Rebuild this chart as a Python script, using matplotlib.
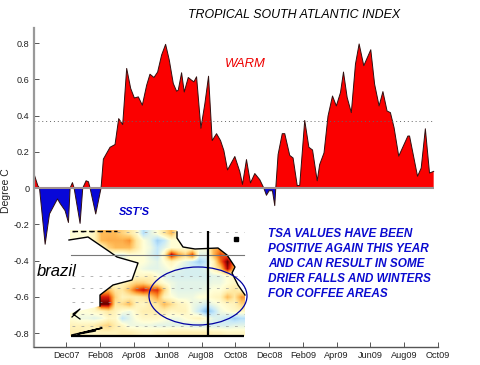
import matplotlib
matplotlib.use("Agg")
import matplotlib.pyplot as plt
import numpy as np
from matplotlib.colors import LinearSegmentedColormap
from matplotlib.patches import Ellipse, Polygon

plt.rcParams['font.family'] = ['Liberation Sans', 'DejaVu Sans']

# months since Oct 2007 (axis unit) and TSA index
months = [0, .26, .36, .7, .96, 1.44, 1.6, 1.9, 2.1, 2.2, 2.34, 2.44, 2.8, 2.96, 3.16, 3.3, 3.4, 3.74, 4.06,
          4.2, 4.6, 4.9, 5.12, 5.36, 5.6, 5.84, 6.06, 6.3, 6.54, 6.8, 7.0, 7.24, 7.46, 7.7, 7.94, 8.16, 8.4,
          8.6, 8.7, 8.9, 9.06, 9.3, 9.5, 9.64, 9.8, 10.06, 10.3, 10.52, 10.74, 11, 11.24, 11.44, 11.66, 12.1,
          12.4, 12.56, 12.8, 13.04, 13.3, 13.6, 13.84, 14.0, 14.16, 14.36, 14.5, 14.56, 14.7, 14.95, 15.1,
          15.4, 15.6, 15.85, 16, 16.3, 16.55, 16.77, 17.05, 17.2, 17.46, 17.7, 17.97, 18.2, 18.45, 18.63,
          18.85, 19.1, 19.35, 19.57, 19.85, 20.27, 20.5, 20.77, 21, 21.25, 21.45, 21.67, 21.95, 22.5, 22.6,
          23.08, 23.3, 23.55, 23.8, 24.05]
tsa = [.087, .013, 0, -.31, -.143, -.06, -.085, -.125, -.19, 0, .03, 0, -.195, 0, .04, .035, 0, -.143, 0,
       .16, .225, .24, .383, .35, .66, .55, .497, .503, .457, .567, .628, .61, .64, .734, .793, .706, .577,
       .534, .54, .636, .53, .61, .595, .586, .614, .33, .466, .617, .262, .3, .262, .207, .1, .174,
       .09, .02, .157, .028, .08, .046, 0, -.04, -.015, -.015, -.097, 0, .185, .3, .3,
       .18, .166, .013, .015, .373, .225, .21, .04, .13, .194, .397, .508, .453, .527, .64,
       .5, .416, .684, .795, .675, .763, .573, .453, .532, .425, .416, .333, .176, .287, .287,
       .065, .11, .327, .083, .092]
threshold = 0.37

y_ticks = [-0.8, -0.6, -0.4, -0.2, 0, 0.2, 0.4, 0.6, 0.8]
y_labels = ['-0.8', '-0.6', '-0.4', '-0.2', '0', '0.2', '0.4', '0.6', '0.8']
x_labels = ['Dec07', 'Feb08', 'Apr08', 'Jun08', 'Aug08', 'Oct08', 'Dec08', 'Feb09', 'Apr09', 'Jun09', 'Aug09', 'Oct09']

note_lines = ['TSA VALUES HAVE BEEN', 'POSITIVE AGAIN THIS YEAR', 'AND CAN RESULT IN SOME',
              'DRIER FALLS AND WINTERS', 'FOR COFFEE AREAS']

# SST anomaly inset, coarse reading of the map shading
sst_map = [
    [0, 0, 0, .5, 2, 2, 2, 1.5, 1, .3, -1.2, -.5, 0, 1, 2, .5, 0, 0, 0, 0, 0, 0, 0, 0, 0],
    [0, 0, 0, .5, 2, 2.2, 2.2, 2.2, 2.6, 1, 0, -.5, -1.5, -1, 0, 0, 0, 0, 0, 0, 0, 0, 0, 0, 0],
    [0, 0, 0, 0, .3, 1.5, 2, 2, 2, 1, 0, -.3, -1, -.5, 0, 0, 0, 0, 0, 0, 2, 2.5, 0, 0, 0],
    [0, 0, 0, 0, 0, 0, -.5, -.5, 0, 0, 0, -.5, -1, .5, 4.5, 2.5, 1.5, 3.5, -.5, -.5, 2, 3.5, 3, 0, 0],
    [0, 0, 0, 0, 0, 0, 0, -.3, 0, 0, 0, -.3, -.5, 0, .5, 0, -.5, -1, -1.5, -1, .5, 3, 5, 3, 0],
    [0, 0, 0, 0, 0, 0, 0, 0, 0, 0, -.3, -.5, -.5, -.3, 0, -.5, -.7, -.7, -.7, -.5, .5, 1.5, 4.5, 2, 0],
    [0, 0, 0, 0, 0, 0, 0, 0, 0, .3, .3, .5, 0, -.5, -.7, -.7, -.7, -.7, -.7, -.7, -.5, -.5, 0, .3, 0],
    [0, 0, 0, 0, 0, 0, 0, .5, 1, 1.5, 1.5, 1, .5, 0, -.3, -.5, -.5, -.5, -.5, -.5, -.3, -.3, 0, .3, .3],
    [0, 0, 0, 0, 2, 2, 1, 1, 2, 3.5, 4.2, 3.5, 3.8, 1.5, -.3, -.5, -.5, -.5, -.5, -.3, 0, 0, .5, 1, .5],
    [0, 0, 0, 0, 4, 4, 1.5, .5, .7, .7, 1, 1.5, 2.5, .5, 0, -.3, -.3, -.3, 0, 0, .3, .5, 2, 1, 2.5],
    [0, 0, 0, 0, 5, 5, 1, 1.3, 2, .5, .3, .8, 1, 2, 1.3, .5, .3, -.3, -.5, -.7, -.3, 0, .3, .5, 1.5],
    [0, 0, 0, .3, .5, 1, .5, 0, -.3, .3, .7, .7, .7, .7, .3, .5, .5, -.3, -1, -2, -1.2, -.3, 0, .3, .3],
    [0, -.3, -.3, -.5, -.3, .3, .3, -1, -.5, 0, .3, .3, .3, 0, -.3, -.3, 0, .3, .5, 0, -.5, -.7, -1, -1.5, -1.2],
    [.5, .5, .5, .7, 1.2, 1.5, .7, .3, -.3, -.3, -.3, -.3, -.5, -.5, -.5, -.5, -.5, -.7, -.7, -.7, -.7, -.7, -.7, -.5, -.5],
    [.7, .7, .3, .3, .5, .5, .5, .7, .7, .5, .3, .3, .5, .5, .7, .7, .7, .7, .7, .7, .5, .5, .3, .3, .3],
]
west_coast = [(69, 240), (88, 237), (110, 252), (117, 257), (138, 263), (132, 280), (113, 285), (100, 295), (100, 306), (70, 313)]
east_coast = [(177, 232), (177, 238), (183, 247), (195, 249), (218, 248), (227, 255), (235, 267), (232, 273), (238, 285), (245, 295)]

W, H = 481, 365
fig = plt.figure(figsize=(W / 100, H / 100), dpi=100, facecolor='white')
ax = fig.add_axes([33.5 / W, (H - 347) / H, (438 - 33.5) / W, (347 - 28) / H])
ax.set_xlim(0, 24.3)
ax.set_ylim(-0.877, 0.883)

m = np.array(months)
v = np.array(tsa)
ax.fill_between(m, v, 0, where=v >= 0, interpolate=True, color='#fb0000', lw=0)
ax.fill_between(m, v, 0, where=v <= 0, interpolate=True, color='#0808d8', lw=0)
ax.plot(m, v, color='#301010', lw=0.7)
ax.plot([0, 24.05], [threshold, threshold], color='#666666', lw=0.7, ls=(0, (1, 3)))
ax.plot([0, 24.05], [0, 0], color='#a09090', lw=1.5, solid_capstyle='butt')

for s in ('top', 'right'):
    ax.spines[s].set_visible(False)
ax.spines['left'].set_color('#999999')
ax.spines['left'].set_linewidth(1.6)
ax.spines['bottom'].set_color('#555555')
ax.spines['bottom'].set_linewidth(1.0)
ax.set_yticks(y_ticks, y_labels)
ax.set_xticks([1.98 + 2.03 * i for i in range(len(x_labels))], x_labels)
ax.tick_params(axis='both', direction='in', length=3.5, width=0.7, color='#555555',
               labelsize=6.6, labelcolor='#222222', pad=3)

# overlay in figure pixels for the pasted map and the annotations
ov = fig.add_axes([0, 0, 1, 1], facecolor='none')
ov.axis('off')

cmap = LinearSegmentedColormap.from_list('sst', [
    (0.0, '#7fbcf0'), (0.14, '#c4e8fa'), (0.28, '#ffffd8'), (0.43, '#ffe8a0'),
    (0.57, '#ffbc58'), (0.71, '#f87818'), (0.86, '#d81808'), (1.0, '#600000')])
ov.imshow(np.array(sst_map), extent=(70, 245, 336, 230), cmap=cmap, vmin=-2, vmax=5,
          interpolation='bilinear', aspect='auto', zorder=1)
ov.set_xlim(0, W)
ov.set_ylim(H, 0)

ov.add_patch(Polygon([(66, 228)] + west_coast + [(66, 313)], closed=True, fc='white', ec='none', zorder=2))
ov.add_patch(Polygon([(177, 228)] + east_coast + [(247, 295), (247, 228)], closed=True, fc='white', ec='none', zorder=2))
for yy in (232, 276, 288, 302, 314, 326):
    ov.plot([72, 244], [yy, yy], color='#999999', lw=0.5, ls=(0, (4, 9)), zorder=3)
wx, wy = zip(*west_coast[:-1])
ov.plot(wx, wy, color='black', lw=1.0, zorder=4)
ex, ey = zip(*east_coast)
ov.plot(ex, ey, color='black', lw=1.0, zorder=4)
ov.plot([72, 117], [231, 231], color='black', lw=1.0, ls=(0, (4, 2)), zorder=4)
ov.plot([72, 80, 73, 80], [317, 309, 314, 319], color='black', lw=0.9, zorder=4)
ov.plot([72, 102, 78, 95], [335, 328, 334, 331], color='black', lw=1.1, zorder=4)
ov.plot([236], [239], marker='s', ms=2.5, color='black', zorder=4)
ov.plot([71, 244], [255, 255], color='#777777', lw=0.8, zorder=5)
ov.add_patch(Ellipse((198, 296), 98, 58, fc='none', ec='#0000a0', lw=0.9, zorder=5))
ov.plot([71, 244], [336, 336], color='black', lw=1.6, solid_capstyle='butt', zorder=6)
ov.plot([208, 208], [231, 337], color='black', lw=1.6, solid_capstyle='butt', zorder=6)

ov.text(6, 191, 'Degree C', rotation=90, fontsize=7.5, color='#222222', ha='center', va='center', zorder=7)
ov.text(294, 15, 'TROPICAL SOUTH ATLANTIC INDEX', style='italic', fontsize=8.9, color='black',
        ha='center', va='center', zorder=7)
ov.text(245, 64, 'WARM', style='italic', fontsize=9.4, color='#ee0000', ha='center', va='center', zorder=7)
ov.text(134, 212, "SST'S", style='italic', weight='bold', fontsize=7.8, color='#0000cc',
        ha='center', va='center', zorder=7)
ov.text(37, 271, 'brazil', style='italic', fontsize=12, color='black', ha='left', va='center', zorder=7)
for i, line in enumerate(note_lines):
    ov.text(268, 234 + 15 * i, line, style='italic', weight='bold', fontsize=8.5, color='#0a0ad0',
            ha='left', va='center', zorder=7)

fig.savefig('out.png', dpi=100)
